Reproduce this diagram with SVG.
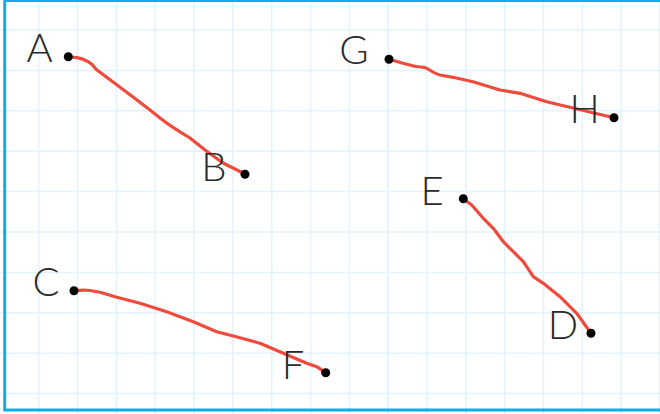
<svg xmlns="http://www.w3.org/2000/svg" width="660" height="414" viewBox="0 0 660 414">
<style>
.grid line{stroke:#e2f3fb;stroke-width:1.5}
.seg{fill:none;stroke:#ef4a3c;stroke-width:3.2;stroke-linecap:round;stroke-linejoin:round}
.dot{fill:#000}
.lbl{font-family:"Lato","Open Sans",sans-serif;font-weight:300;font-size:40px;fill:#2a2a2a;text-anchor:middle}
</style>
<rect width="660" height="414" fill="#fff"/>
<g class="grid">
<line x1="38.8" y1="0" x2="38.8" y2="414"/><line x1="77.6" y1="0" x2="77.6" y2="414"/><line x1="116.5" y1="0" x2="116.5" y2="414"/><line x1="155.3" y1="0" x2="155.3" y2="414"/><line x1="194.1" y1="0" x2="194.1" y2="414"/><line x1="232.9" y1="0" x2="232.9" y2="414"/><line x1="271.8" y1="0" x2="271.8" y2="414"/><line x1="310.6" y1="0" x2="310.6" y2="414"/><line x1="349.4" y1="0" x2="349.4" y2="414"/><line x1="388.2" y1="0" x2="388.2" y2="414"/><line x1="427" y1="0" x2="427" y2="414"/><line x1="465.9" y1="0" x2="465.9" y2="414"/><line x1="504.7" y1="0" x2="504.7" y2="414"/><line x1="543.5" y1="0" x2="543.5" y2="414"/><line x1="582.4" y1="0" x2="582.4" y2="414"/><line x1="621.2" y1="0" x2="621.2" y2="414"/><line x1="659.5" y1="0" x2="659.5" y2="414"/>
<line x1="0" y1="30" x2="660" y2="30"/><line x1="0" y1="70.4" x2="660" y2="70.4"/><line x1="0" y1="110.8" x2="660" y2="110.8"/><line x1="0" y1="151.2" x2="660" y2="151.2"/><line x1="0" y1="191.6" x2="660" y2="191.6"/><line x1="0" y1="232" x2="660" y2="232"/><line x1="0" y1="272.4" x2="660" y2="272.4"/><line x1="0" y1="312.8" x2="660" y2="312.8"/><line x1="0" y1="353.2" x2="660" y2="353.2"/><line x1="0" y1="393.6" x2="660" y2="393.6"/>
</g>
<rect x="4.7" y="0.5" width="700" height="409.5" fill="none" stroke="#13ace6" stroke-width="3"/>
<g id="connectors">
<path class="seg" d="M68,57 C74,57 80,57 88,61.7 S92,66 97,70 L113,82 L133,97 L150,110 L160,118 C170,126 180,132 190,138 L205,150 L223,163 L245,174"/>
<path class="seg" d="M389,59.3 L403,63.3 L416.7,66.7 C422,67 425,67 428,69 S436,74 440,75 L453,77.3 L473,81.7 L500,90 L520,93.3 L546.7,101.7 L573,108 L614,117.7"/>
<path class="seg" d="M74,290.7 C80,290 84,289.5 90,290.5 L100,292.3 L116.7,297.3 L140,303.3 L166.7,311.7 L193.3,321.7 L216.7,331.7 L233.3,336 L260,343.3 L283.3,353.3 L306.7,363.3 L316.7,366.7 L325.7,372.7"/>
<path class="seg" d="M463.3,198.7 L471.7,205 L483.3,218.3 L493.3,228.3 L503.3,241.7 L513.3,251.7 L523.3,261.7 L533.3,276.7 L543.3,283.3 L560,296.7 L576.7,313.3 L591,333.3"/>
</g>
<g id="A"><circle class="dot" cx="68.3" cy="56.7" r="4.5"/><text class="lbl" x="39.5" y="62">A</text></g>
<g id="B"><circle class="dot" cx="245" cy="174.3" r="4.5"/><text class="lbl" x="214" y="180.5">B</text></g>
<g id="G"><circle class="dot" cx="389" cy="59.3" r="4.5"/><text class="lbl" x="354" y="64">G</text></g>
<g id="H"><circle class="dot" cx="614" cy="117.7" r="4.5"/><text class="lbl" x="584.5" y="123">H</text></g>
<g id="C"><circle class="dot" cx="74" cy="290.7" r="4.5"/><text class="lbl" x="46" y="295.5">C</text></g>
<g id="F"><circle class="dot" cx="325.7" cy="372.7" r="4.5"/><text class="lbl" x="293" y="379">F</text></g>
<g id="E"><circle class="dot" cx="463.3" cy="198.7" r="4.5"/><text class="lbl" x="432" y="204.5">E</text></g>
<g id="D"><circle class="dot" cx="591" cy="333.3" r="4.5"/><text class="lbl" x="563" y="339">D</text></g>
</svg>
